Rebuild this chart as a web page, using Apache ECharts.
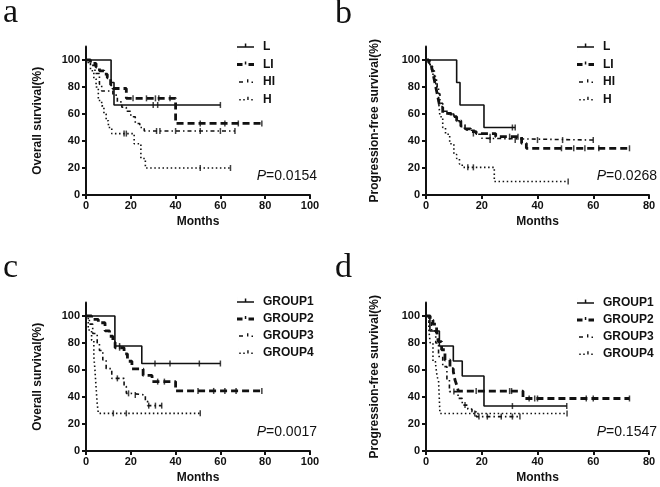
<!DOCTYPE html>
<html>
<head>
<meta charset="utf-8">
<script src="https://cdn.jsdelivr.net/npm/echarts@6/dist/echarts.min.js"></script>
<style>
  html, body { margin: 0; padding: 0; background: #fff; }
  #main { width: 660px; height: 487px; }
</style>
</head>
<body>
<div id="main"></div>
<script>
// Kaplan-Meier curves: [months, survival %]
var namesAB = ['L', 'LI', 'HI', 'H'];
var namesCD = ['GROUP1', 'GROUP2', 'GROUP3', 'GROUP4'];
var pValues = ['0.0154', '0.0268', '0.0017', '0.1547'];
var panelLetters = ['a', 'b', 'c', 'd'];
var yTicks = [0, 20, 40, 60, 80, 100];

// a: Overall survival
var aL = [[0, 100], [11.2, 83.3], [12.5, 66.7], [60, 66.7]];
var aLI = [[0, 100], [2, 97.4], [4.5, 94.7], [6, 92], [8, 89.5], [9.5, 86.8], [11, 81.6], [12, 78.9], [18, 71.6], [40, 53], [78.5, 53]];
var aHI = [[0, 100], [2, 96], [4, 90], [6, 82], [7, 77], [12, 74], [14, 69], [16, 65], [18, 62], [20, 58], [22, 53], [24, 50], [26, 47.4], [66.5, 47.4]];
var aH = [[0, 100], [1, 97], [2, 92], [3.5, 86], [4.5, 80], [5.5, 70], [7, 66], [8, 60], [9, 55], [10, 50], [11.5, 45.5], [21.5, 38], [24.5, 27], [26.5, 20], [64.5, 20]];
var aLc = [[30, 66.7], [32, 66.7], [60, 66.7]];
var aLIc = [[21, 71.6], [27, 71.6], [31, 71.6], [32.5, 71.6], [37.5, 71.6], [51, 53], [62, 53], [68, 53], [78.5, 53]];
var aHIc = [[31.5, 47.4], [33, 47.4], [40, 47.4], [51, 47.4], [60, 47.4], [66.5, 47.4]];
var aHc = [[17, 45.5], [18, 45.5], [51, 20], [64.5, 20]];

// b: Progression-free survival
var bL = [[0, 100], [11, 83.3], [12.2, 66.7], [20.8, 50], [32, 50]];
var bLI = [[0, 100], [1, 98], [2, 95], [2.5, 90], [3, 85], [3.5, 80], [4, 75], [4.5, 70], [5, 65], [6, 60.5], [9, 58], [11, 55], [12.5, 51], [14, 49], [16, 47], [18, 45.5], [25, 43.2], [34.3, 38.3], [36, 34.6], [73, 34.6]];
var bHI = [[0, 100], [1, 97], [2, 92], [3, 85], [4, 75], [5, 68], [6, 62], [8, 60], [10, 58], [11, 55], [12, 52], [14, 48], [18, 45], [20, 42], [21, 40.7], [60, 40.7]];
var bH = [[0, 100], [1.5, 95], [2.5, 88], [3.5, 80], [4.5, 70], [5, 58], [6, 50], [7, 45], [8.5, 38], [10, 30], [11, 27], [12, 23], [13, 20.5], [24.5, 10], [51, 10]];
var bLc = [[31, 50], [32, 50]];
var bLIc = [[17, 45.5], [23, 43.2], [30, 43.2], [33, 43.2], [48.6, 34.6], [53, 34.6], [57, 34.6], [62, 34.6], [73, 34.6]];
var bHIc = [[23, 40.7], [32, 40.7], [40, 40.7], [49, 40.7], [60, 40.7]];
var bHc = [[15, 20.5], [17, 20.5], [51, 10]];

// c: Overall survival
var cG1 = [[0, 100], [12.9, 77.8], [24.9, 64.8], [60, 64.8]];
var cG2 = [[0, 100], [2.5, 97.5], [5.5, 95], [8.5, 89], [10.5, 85], [12, 80.5], [13, 76.5], [17, 72], [18.5, 66.5], [20.5, 60.8], [25.5, 56], [29.5, 51.4], [40, 44.5], [78.5, 44.5]];
var cG3 = [[0, 100], [1.5, 94], [3, 87], [5, 80], [6, 74.5], [7.5, 67.4], [9, 61], [11.5, 53.8], [17, 48], [18, 42.7], [20, 41.5], [26.5, 37], [27.5, 33.6], [33.8, 33.6]];
var cG4 = [[0, 100], [1, 89.6], [2.5, 82], [3.5, 70], [4, 60], [4.5, 47], [5, 35], [5.5, 27.9], [51, 27.9]];
var cG1c = [[15, 77.8], [30.8, 64.8], [37.5, 64.8], [50.6, 64.8], [60, 64.8]];
var cG2c = [[15, 76.5], [32, 51.4], [35, 51.4], [50, 44.5], [57, 44.5], [62, 44.5], [67, 44.5], [78.5, 44.5]];
var cG3c = [[14, 53.8], [19, 42.7], [22, 41.5], [28, 33.6], [31, 33.6], [33.8, 33.6]];
var cG4c = [[12.2, 27.9], [18, 27.9], [51, 27.9]];

// d: Progression-free survival
var dG1 = [[0, 100], [1.4, 88.9], [4.8, 77.8], [9.8, 66.7], [13, 55.6], [20.8, 33.3], [50.5, 33.3]];
var dG2 = [[0, 100], [1.5, 97], [2.5, 94], [3.8, 89.6], [4.4, 81], [5.6, 75], [6.8, 67.4], [8.6, 61], [9.8, 58.8], [10.4, 52.6], [11, 48.9], [11.6, 44.4], [34.8, 38.9], [73, 38.9]];
var dG3 = [[0, 100], [1, 95], [2, 89], [3.5, 80], [4.5, 70], [6, 62.5], [7.5, 52.6], [8.4, 44], [11.5, 39], [13, 34], [15, 31], [16.5, 29], [18, 25.5], [33.7, 25.5]];
var dG4 = [[0, 100], [1, 90], [1.5, 80], [2.5, 66], [3.5, 63], [4, 55], [4.5, 52], [5, 27.8], [50.6, 27.8]];
var dG1c = [[31, 33.3], [50.5, 33.3]];
var dG2c = [[18, 44.4], [30, 44.4], [30.7, 44.4], [37, 38.9], [39, 38.9], [40, 38.9], [57.5, 38.9], [60, 38.9], [73, 38.9]];
var dG3c = [[10, 44], [14, 34], [19, 25.5], [22, 25.5], [27, 25.5], [31, 25.5], [33.7, 25.5]];
var dG4c = [[17.5, 27.8], [50.6, 27.8]];

var curves = [[aL, aLI, aHI, aH], [bL, bLI, bHI, bH], [cG1, cG2, cG3, cG4], [dG1, dG2, dG3, dG4]];
var censors = [[aLc, aLIc, aHIc, aHc], [bLc, bLIc, bHIc, bHc], [cG1c, cG2c, cG3c, cG4c], [dG1c, dG2c, dG3c, dG4c]];
var xMax = [100, 80, 100, 80];
var yTitles = ['Overall survival(%)', 'Progression-free survival(%)', 'Overall survival(%)', 'Progression-free survival(%)'];

var myChart = echarts.init(document.getElementById('main'));

var ink = '#111';
var sans = 'Liberation Sans';
var lineStyles = [
  { type: 'solid', width: 1.6 },
  { type: [7, 4], width: 2.8 },
  { type: [4, 3, 1.5, 3], width: 1.6 },
  { type: [1.5, 2.6], width: 1.6 }
];
// legend keys: line pattern with a censor tick, drawn in a 17 x 10 box
var legendIcons = [
  'path://M0,0H0.01V10H0Z M0,4.2H17V5.8H0Z M7.8,1.6H9.3V5H7.8Z',
  'path://M0,0H0.01V10H0Z M0,3.6H5.5V6.4H0Z M11.5,3.6H17V6.4H11.5Z M7.8,2H9.3V5H7.8Z',
  'path://M0,0H0.01V10H0Z M1,4.2H5V5.8H1Z M9,2.2H10.4V5.4H9Z M13.5,4.4H15V5.9H13.5Z',
  'path://M0,0H0.01V10H0Z M1,4.4H2.5V5.9H1Z M5,4.4H6.5V5.9H5Z M9,2.2H10.4V5.6H9Z M13,4.4H14.5V5.9H13Z'
];

var grids = [
  { left: 86, right: 350, top: 46.5, bottom: 292 },
  { left: 426, right: 11, top: 46.5, bottom: 292 },
  { left: 86, right: 350, top: 302.5, bottom: 36 },
  { left: 426, right: 11, top: 302.5, bottom: 36 }
];
var legendPos = [
  { left: 237, top: 41 },
  { left: 577, top: 41 },
  { left: 237, top: 296 },
  { left: 577, top: 297 }
];
var legendGap = [5.5, 5.5, 5, 5];
var letterPos = [
  { left: 3, top: -4 },
  { left: 335, top: -3 },
  { left: 3, top: 251 },
  { left: 335, top: 251 }
];
var pPos = [
  { right: 343, top: 169 },
  { right: 3, top: 169 },
  { right: 343, top: 425 },
  { right: 3, top: 425 }
];
var yNameGap = [42, 45, 42, 45];

var xAxes = [], yAxes = [], series = [], legends = [], titles = [];
for (var p = 0; p < 4; p++) {
  var names = p < 2 ? namesAB : namesCD;
  xAxes.push({
    type: 'value', gridIndex: p, min: 0, max: xMax[p], interval: 20,
    name: 'Months', nameLocation: 'middle', nameGap: 21,
    nameTextStyle: { fontFamily: sans, fontWeight: 'bold', fontSize: 12, color: ink },
    axisLine: { lineStyle: { color: ink, width: 2 } },
    axisTick: { length: 4, lineStyle: { color: ink, width: 2 } },
    axisLabel: { margin: 5, fontFamily: sans, fontWeight: 'bold', fontSize: 11, color: ink },
    splitLine: { show: false }
  });
  yAxes.push({
    type: 'value', gridIndex: p, min: 0, max: 110, interval: 20,
    name: yTitles[p], nameLocation: 'middle', nameGap: yNameGap[p],
    nameTextStyle: { fontFamily: sans, fontWeight: 'bold', fontSize: 12, color: ink },
    axisLine: { show: true, lineStyle: { color: ink, width: 2 } },
    axisTick: { show: true, length: 4, customValues: yTicks, lineStyle: { color: ink, width: 2 } },
    axisLabel: { margin: 6, customValues: yTicks, fontFamily: sans, fontWeight: 'bold', fontSize: 11, color: ink },
    splitLine: { show: false }
  });
  var legendData = [];
  for (var k = 0; k < 4; k++) {
    series.push({
      name: names[k], type: 'line', step: 'end',
      xAxisIndex: p, yAxisIndex: p,
      data: curves[p][k], symbol: 'none',
      lineStyle: { color: ink, width: lineStyles[k].width, type: lineStyles[k].type },
      itemStyle: { color: ink }
    });
    series.push({
      name: names[k] + ' censored', type: 'scatter',
      xAxisIndex: p, yAxisIndex: p,
      data: censors[p][k], symbol: 'rect', symbolSize: [1.5, 6],
      itemStyle: { color: ink }
    });
    legendData.push({ name: names[k], icon: legendIcons[k] });
  }
  legends.push({
    orient: 'vertical', left: legendPos[p].left, top: legendPos[p].top,
    padding: 0, itemWidth: 17, itemHeight: 10, itemGap: legendGap[p],
    selectedMode: false, data: legendData,
    itemStyle: { color: ink, borderWidth: 0 },
    textStyle: { fontFamily: sans, fontWeight: 'bold', fontSize: 12, color: ink, padding: [0, 0, 0, 4] }
  });
  titles.push({
    text: panelLetters[p], left: letterPos[p].left, top: letterPos[p].top, padding: 0,
    textStyle: { fontFamily: 'Liberation Serif', fontWeight: 'normal', fontSize: 34, color: ink }
  });
  titles.push({
    text: '{i|P}=' + pValues[p], right: pPos[p].right, top: pPos[p].top, padding: 0,
    textStyle: {
      fontFamily: sans, fontWeight: 'normal', fontSize: 14, color: ink,
      rich: { i: { fontFamily: sans, fontStyle: 'italic', fontSize: 14, color: ink } }
    }
  });
}

myChart.setOption({
  animation: false,
  backgroundColor: '#fff',
  title: titles,
  legend: legends,
  grid: grids,
  xAxis: xAxes,
  yAxis: yAxes,
  series: series
});
</script>
</body>
</html>
